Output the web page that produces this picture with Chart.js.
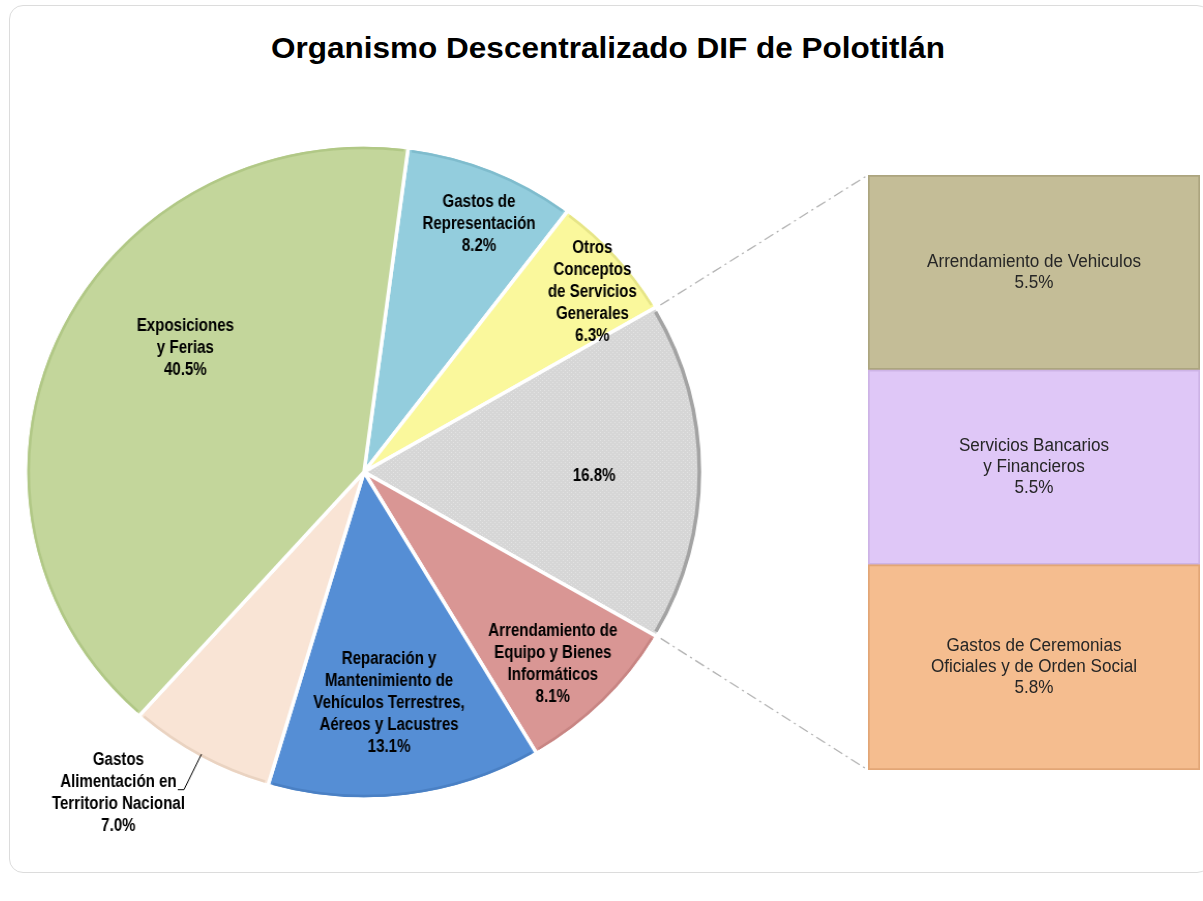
<!DOCTYPE html>
<html>
<head>
<meta charset="utf-8">
<script src="https://cdn.jsdelivr.net/npm/chart.js@4.4.1/dist/chart.umd.min.js"></script>
<style>
  body { margin: 0; background: #fff; width: 1203px; height: 901px; overflow: hidden; position: relative; font-family: "Liberation Sans", Arial, sans-serif; }
  #card { position: absolute; left: 9px; top: 5px; width: 1200px; height: 866px; border: 1px solid #dcdcdc; border-radius: 14px; }
  #title { position: absolute; left: 0; top: 31px; width: 1216px; text-align: center; font-weight: bold; font-size: 30px; color: #000; transform: scaleX(1.05); transform-origin: 608px 0; }
  #pieWrap { position: absolute; left: 0; top: 0; width: 1203px; height: 901px; transform: scaleX(1.035); transform-origin: 364px 472px; }
  #barWrap { position: absolute; left: 866px; top: 173px; width: 337px; height: 599px; }
</style>
</head>
<body>
<div id="card"></div>
<div id="title">Organismo Descentralizado DIF de Polotitlán</div>
<div id="pieWrap"><canvas id="pieChart"></canvas></div>
<div id="barWrap"><canvas id="barChart"></canvas></div>
<script>
// datos del pastel (sentido horario desde arriba)
const pieCategories = [
  ['Gastos de', 'Representación'],
  ['Otros', 'Conceptos', 'de Servicios', 'Generales'],
  ['Otros'],
  ['Arrendamiento de', 'Equipo y Bienes', 'Informáticos'],
  ['Reparación y', 'Mantenimiento de', 'Vehículos Terrestres,', 'Aéreos y Lacustres'],
  ['Gastos', 'Alimentación en', 'Territorio Nacional'],
  ['Exposiciones', 'y Ferias']
];
const pieValues = [8.2, 6.3, 16.8, 8.1, 13.1, 7.0, 40.5];

// desglose de "Otros" (de abajo hacia arriba)
const barCategories = [
  ['Gastos de Ceremonias', 'Oficiales y de Orden Social'],
  ['Servicios Bancarios', 'y Financieros'],
  ['Arrendamiento de Vehiculos']
];
const barValues = [5.8, 5.5, 5.5];

const pieColors = ['#93cddd', '#faf89c', null, '#d99694', '#558ed5', '#f9e4d5', '#c3d69b'];
const rimColors = ['#7fbccd', '#e6e588', '#a3a3a3', '#c88583', '#4a80c4', '#ead3c1', '#b1c886'];
const barColors = ['#f5bd8f', '#dfc7f7', '#c4bd97'];
const barBorders = ['#e2a676', '#cdb3e6', '#aca57f'];

// posicion de etiquetas: giro (grados) y fraccion del radio
const labelPlace = [
  { da: 1.9, rf: 0.83 }, { da: 2.5, rf: 0.87 }, { da: 1.1, rf: 0.68 },
  { da: 1.7, rf: 0.81 }, { da: 1.1, rf: 0.71 }, { da: 7.4, rf: 1.22 },
  { da: 11.1, rf: 0.65 }
];

const pct = v => v.toFixed(1) + '%';

// texto condensado (no hay Arial Narrow)
function narrowText(ctx, t, x, y, sx) {
  ctx.save();
  ctx.translate(x, y);
  ctx.scale(sx, 1);
  ctx.fillText(t, 0, 0);
  ctx.restore();
}

// textura punteada para la rebanada gris
const pc = document.createElement('canvas');
pc.width = 4; pc.height = 4;
const pctx = pc.getContext('2d');
pctx.fillStyle = '#d6d6d6';
pctx.fillRect(0, 0, 4, 4);
pctx.fillStyle = '#e4e4e4';
pctx.fillRect(0, 0, 1, 1);
pctx.fillRect(2, 2, 1, 1);
pieColors[2] = pctx.createPattern(pc, 'repeat');

const barLabels = {
  id: 'barLabels',
  afterDatasetsDraw(chart) {
    const ctx = chart.ctx;
    ctx.save();
    ctx.font = '18px "Liberation Sans", Arial, sans-serif';
    ctx.fillStyle = '#262626';
    ctx.textAlign = 'center';
    ctx.textBaseline = 'middle';
    chart.data.datasets.forEach((ds, i) => {
      const el = chart.getDatasetMeta(i).data[0];
      const lines = [...barCategories[i], pct(barValues[i])];
      const cy = (el.y + el.base) / 2;
      const lh = 21;
      lines.forEach((t, k) => narrowText(ctx, t, el.x, cy + (k - (lines.length - 1) / 2) * lh, 0.95));
    });
    ctx.restore();
  }
};

const barChart = new Chart(document.getElementById('barChart'), {
  type: 'bar',
  data: {
    labels: ['Otros'],
    datasets: barValues.map((v, i) => ({
      label: barCategories[i].join(' '),
      data: [v],
      backgroundColor: barColors[i],
      borderColor: barBorders[i],
      borderWidth: 2,
      borderSkipped: false,
      barPercentage: 1,
      categoryPercentage: 1
    }))
  },
  options: {
    responsive: true,
    maintainAspectRatio: false,
    animation: false,
    layout: { padding: { left: 2, right: 3, top: 2, bottom: 2 } },
    plugins: { legend: { display: false }, tooltip: { enabled: false } },
    scales: {
      x: { stacked: true, display: false },
      y: { stacked: true, display: false, min: 0, max: barValues.reduce((a, b) => a + b, 0) }
    }
  },
  plugins: [barLabels]
});

const pieExtras = {
  id: 'pieExtras',
  afterDatasetsDraw(chart) {
    const ctx = chart.ctx;
    const meta = chart.getDatasetMeta(0);
    ctx.save();
    // borde exterior mas oscuro
    meta.data.forEach((arc, i) => {
      ctx.beginPath();
      ctx.arc(arc.x, arc.y, arc.outerRadius - 3, arc.startAngle + 0.012, arc.endAngle - 0.012);
      ctx.strokeStyle = rimColors[i];
      ctx.lineWidth = i === 2 ? 3.5 : 2.5;
      ctx.stroke();
    });

    // etiquetas
    const sx = 0.81;
    ctx.font = 'bold 18px "Liberation Sans", Arial, sans-serif';
    ctx.fillStyle = '#000';
    ctx.textAlign = 'center';
    ctx.textBaseline = 'middle';
    const lh = 22;
    meta.data.forEach((arc, i) => {
      const p = labelPlace[i];
      const mid = (arc.startAngle + arc.endAngle) / 2 + p.da * Math.PI / 180;
      const r = arc.outerRadius * p.rf;
      const x = arc.x + Math.cos(mid) * r;
      const y = arc.y + Math.sin(mid) * r;
      const lines = i === 2 ? [pct(pieValues[i])] : [...pieCategories[i], pct(pieValues[i])];
      lines.forEach((t, k) => narrowText(ctx, t, x, y + (k - (lines.length - 1) / 2) * lh, sx));
      if (p.rf > 1) {
        // linea guia para la etiqueta exterior
        const w = ctx.measureText(lines[1]).width * sx;
        const gx = x + w / 2 + 1;
        const gy = y + (1 - (lines.length - 1) / 2) * lh + 8;
        const m0 = (arc.startAngle + arc.endAngle) / 2;
        const tx = arc.x + Math.cos(m0) * (arc.outerRadius - 4);
        const ty = arc.y + Math.sin(m0) * (arc.outerRadius - 4);
        ctx.beginPath();
        ctx.moveTo(gx, gy);
        ctx.lineTo(gx + 6, gy);
        ctx.lineTo(tx, ty);
        ctx.strokeStyle = '#000';
        ctx.lineWidth = 1;
        ctx.stroke();
      }
    });

    // lineas de conexion hacia la barra (el lienzo del pastel esta estirado en x)
    const grey = meta.data[2];
    const cRect = chart.canvas.getBoundingClientRect();
    const bRect = barChart.canvas.getBoundingClientRect();
    const kx = chart.width / cRect.width;
    const toX = px => (px - cRect.left) * kx;
    const toY = py => py - cRect.top;
    const topEl = barChart.getDatasetMeta(barValues.length - 1).data[0];
    const botEl = barChart.getDatasetMeta(0).data[0];
    const p1 = [grey.x + Math.cos(grey.startAngle) * grey.outerRadius, grey.y + Math.sin(grey.startAngle) * grey.outerRadius];
    const p2 = [grey.x + Math.cos(grey.endAngle) * grey.outerRadius, grey.y + Math.sin(grey.endAngle) * grey.outerRadius];
    const q1 = [toX(bRect.left + topEl.x - topEl.width / 2), toY(bRect.top + topEl.y)];
    const q2 = [toX(bRect.left + botEl.x - botEl.width / 2), toY(bRect.top + botEl.base)];
    ctx.strokeStyle = '#b3b3b3';
    ctx.lineWidth = 1.3;
    ctx.setLineDash([10, 4, 2, 4]);
    ctx.beginPath();
    ctx.moveTo(p1[0] + 4, p1[1] - 2);
    ctx.lineTo(q1[0], q1[1]);
    ctx.moveTo(p2[0] + 4, p2[1] + 2);
    ctx.lineTo(q2[0], q2[1]);
    ctx.stroke();
    ctx.restore();
  }
};

new Chart(document.getElementById('pieChart'), {
  type: 'pie',
  data: {
    labels: pieCategories.map(c => c.join(' ')),
    datasets: [{
      data: pieValues,
      backgroundColor: pieColors,
      borderColor: '#ffffff',
      borderWidth: 3.5,
      radius: 327
    }]
  },
  options: {
    responsive: true,
    maintainAspectRatio: false,
    animation: false,
    rotation: 7.5,
    layout: { padding: { left: 18, right: 493, top: 140, bottom: 97 } },
    plugins: { legend: { display: false }, tooltip: { enabled: false } }
  },
  plugins: [pieExtras]
});
</script>
</body>
</html>
